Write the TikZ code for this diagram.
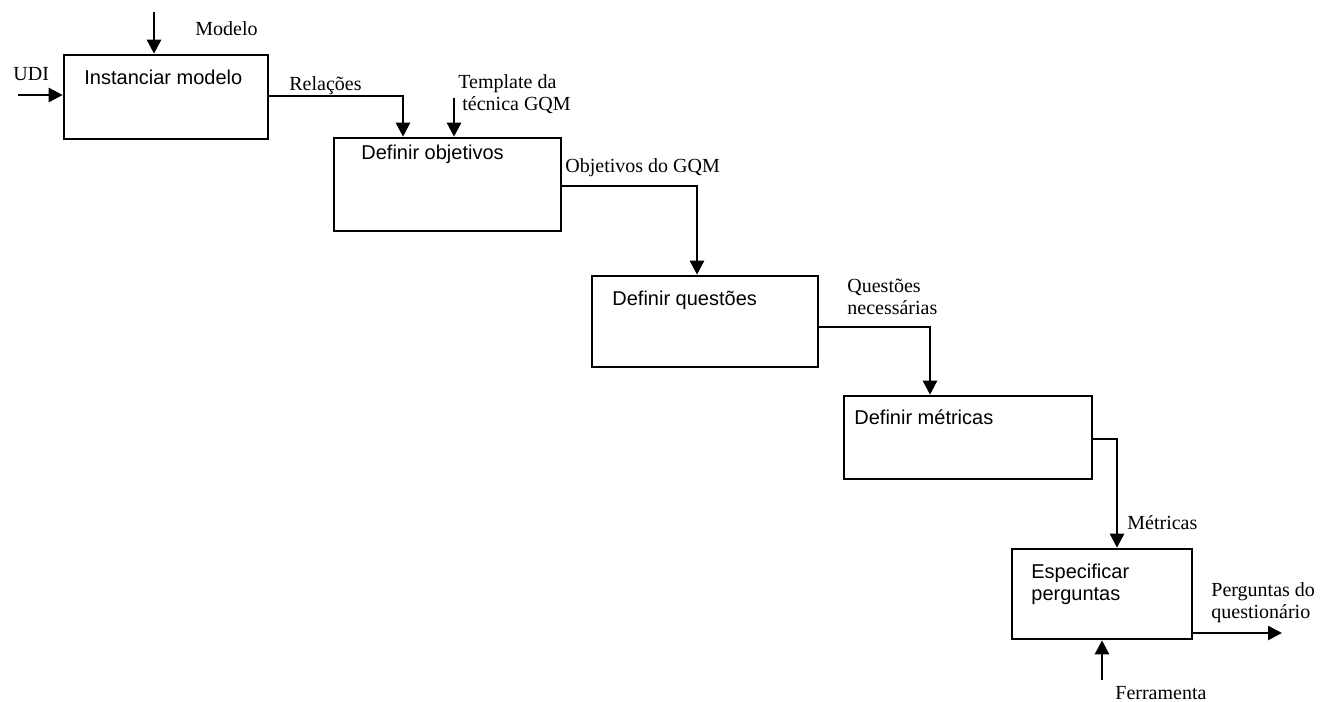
\documentclass[tikz,border=0pt]{standalone}
\usepackage{fontspec}
\setmainfont{Liberation Serif}
\newfontfamily\arialf{Liberation Sans}
\usetikzlibrary{arrows.meta}
\begin{document}
\begin{tikzpicture}[x=0.5pt,y=-0.5pt,
  box/.style={draw, line width=1.3pt, inner sep=0pt},
  arr/.style={line width=1.3pt, -{Triangle[length=7pt,width=7pt]}},
  lbl/.style={inner sep=0pt, anchor=base west, font=\fontsize{10}{11}\selectfont, align=left},
  btxt/.style={inner sep=0pt, anchor=base west, font=\arialf\fontsize{10}{11}\selectfont, align=left}]
\useasboundingbox (0,0) rectangle (1329,702);
% boxes
\node[box, minimum width=102pt, minimum height=42pt] (b1) at (166,97) {};
\node[box, minimum width=113.5pt, minimum height=46.5pt] (b2) at (447.5,184.5) {};
\node[box, minimum width=113pt, minimum height=45.5pt] (b3) at (705,321.5) {};
\node[box, minimum width=124pt, minimum height=41.5pt] (b4) at (968,437.5) {};
\node[box, minimum width=90pt, minimum height=45pt] (b5) at (1102,594) {};
% box texts
\node[btxt] (t1) at (84,84) {Instanciar modelo};
\node[btxt] (t2) at (361,159) {Definir objetivos};
\node[btxt] (t3) at (612,305) {Definir questões};
\node[btxt] (t4) at (854,424) {Definir métricas};
\node[btxt] (t5) at (1031,600) {Especificar\\perguntas};
% labels
\node[lbl] (lmod) at (195,35) {Modelo};
\node[lbl] (ludi) at (13,80) {UDI};
\node[lbl] (lrel) at (289,90) {Relações};
\node[lbl] (ltpl) at (458,110) {Template da\\\hspace*{2pt}técnica GQM};
\node[lbl] (lobj) at (565,172) {Objetivos do GQM};
\node[lbl] (lque) at (847,314) {Questões\\necessárias};
\node[lbl] (lmet) at (1127,529) {Métricas};
\node[lbl] (lper) at (1211,618) {Perguntas do\\questionário};
\node[lbl] (lfer) at (1115,699) {Ferramenta};
% coordinates
\coordinate (cmod) at (154,12);
\coordinate (cudi) at (18,95);
\coordinate (crel) at (403,96);
\coordinate (ctpl) at (454,98);
\coordinate (cobj) at (697,186);
\coordinate (cque) at (930,327);
\coordinate (cmet) at (1117,439);
\coordinate (cper) at (1282,633);
\coordinate (cfer) at (1102,680);
% connectors
\draw[arr] (cmod) -- (cmod |- b1.north);
\draw[arr] (cudi) -- (cudi -| b1.west);
\draw[arr] (b1.east |- crel) -- (crel) -- (crel |- b2.north);
\draw[arr] (ctpl) -- (ctpl |- b2.north);
\draw[arr] (b2.east |- cobj) -- (cobj) -- (cobj |- b3.north);
\draw[arr] (b3.east |- cque) -- (cque) -- (cque |- b4.north);
\draw[arr] (b4.east |- cmet) -- (cmet) -- (cmet |- b5.north);
\draw[arr] (b5.east |- cper) -- (cper);
\draw[arr] (cfer) -- (cfer |- b5.south);
\end{tikzpicture}
\end{document}
